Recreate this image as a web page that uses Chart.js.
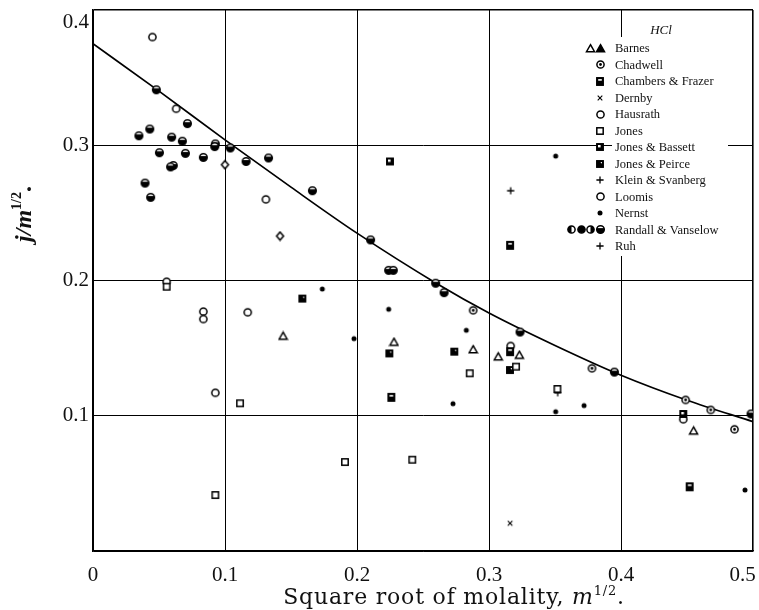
<!DOCTYPE html>
<html lang="en">
<head>
<meta charset="UTF-8">
<title>HCl - j/m^1/2 against square root of molality</title>
<script src="https://cdn.jsdelivr.net/npm/chart.js"></script>
<style>
  html, body { margin: 0; padding: 0; background: #fff; }
  canvas { display: block; }
</style>
</head>
<body>
<canvas id="chart" width="759" height="610"></canvas>
<script>
// points: [m^1/2, j/m^1/2]
const barnes = [[0.144, 0.159], [0.228, 0.1545], [0.288, 0.149], [0.307, 0.1437], [0.323, 0.1449], [0.455, 0.0889]];
const chadwell = [[0.288, 0.178], [0.378, 0.1351], [0.449, 0.1117], [0.468, 0.1043], [0.486, 0.090]];
const chambersFrazer = [[0.316, 0.226], [0.226, 0.1136], [0.316, 0.1474], [0.452, 0.0475]];
const dernby = [[0.316, 0.0205]];
const hausrath = [[0.045, 0.380], [0.063, 0.327], [0.131, 0.260]];
const diamonds = [[0.100, 0.2856], [0.1417, 0.2329]];
const jones = [[0.0558, 0.1954], [0.1114, 0.1092], [0.0927, 0.0414], [0.1909, 0.0658], [0.2419, 0.0675], [0.2854, 0.1314], [0.3205, 0.1363], [0.3518, 0.1198]];
const jonesBassett = [[0.225, 0.288], [0.4472, 0.1013]];
const jonesPeirce = [[0.1586, 0.1866], [0.2245, 0.1461], [0.2737, 0.1474], [0.3159, 0.1338]];
const kleinSvanberg = [[0.3164, 0.2664]];
const loomis = [[0.0558, 0.1991], [0.0836, 0.177], [0.0836, 0.1715], [0.1172, 0.1765], [0.0927, 0.117], [0.3164, 0.1516], [0.4472, 0.0974]];
const nernst = [[0.3505, 0.292], [0.1737, 0.1937], [0.224, 0.1787], [0.1977, 0.157], [0.2828, 0.1632], [0.2727, 0.1089], [0.3505, 0.103], [0.372, 0.1075], [0.4939, 0.0451]];
const randallVanselow = [[0.048, 0.341], [0.0715, 0.316], [0.0348, 0.307], [0.043, 0.312], [0.0596, 0.306], [0.0677, 0.303],
  [0.0927, 0.301], [0.0922, 0.299], [0.104, 0.298], [0.0503, 0.2945], [0.070, 0.294], [0.0836, 0.291], [0.116, 0.288],
  [0.133, 0.2906], [0.0608, 0.285], [0.0588, 0.284], [0.0394, 0.272], [0.0437, 0.2615], [0.1662, 0.2664], [0.2103, 0.230],
  [0.224, 0.2075], [0.2275, 0.2075], [0.2596, 0.198], [0.266, 0.191], [0.3235, 0.1619], [0.395, 0.1323], [0.4985, 0.1013]];
const ruh = [[0.352, 0.117]];

// the drawn curve, read at intervals
const curveX = [0, 0.05, 0.1, 0.15, 0.2, 0.26, 0.3, 0.35, 0.4, 0.45, 0.5];
const curveY = [0.375, 0.340, 0.304, 0.269, 0.235, 0.198, 0.176, 0.152, 0.130, 0.1115, 0.0956];

const xTicks = [0, 0.1, 0.2, 0.3, 0.4, 0.5];
const yTicks = [0.1, 0.2, 0.3, 0.4];
const legendTitle = 'HCl';

// little symbol canvases used as point styles
function sym(w, h, draw) {
  const c = document.createElement('canvas');
  c.width = w; c.height = h;
  const g = c.getContext('2d');
  g.strokeStyle = '#000'; g.fillStyle = '#000'; g.lineWidth = 1.5;
  draw(g, w / 2, h / 2);
  return c;
}
function ring(g, x, y, r) { g.beginPath(); g.arc(x, y, r, 0, Math.PI * 2); }
function half(g, x, y, r, rx, ry, rw, rh) {
  ring(g, x, y, r); g.fillStyle = '#fff'; g.fill();
  g.save(); g.clip(); g.fillStyle = '#000'; g.fillRect(rx, ry, rw, rh); g.restore();
  ring(g, x, y, r); g.stroke();
}

const S = {
  triOpen: sym(11, 11, (g, x, y) => { g.beginPath(); g.moveTo(x, y - 3.8); g.lineTo(x + 4, y + 3.2); g.lineTo(x - 4, y + 3.2); g.closePath(); g.fillStyle = '#fff'; g.fill(); g.stroke(); }),
  triFull: sym(11, 11, (g, x, y) => { g.beginPath(); g.moveTo(x, y - 3.8); g.lineTo(x + 4, y + 3.2); g.lineTo(x - 4, y + 3.2); g.closePath(); g.fill(); g.stroke(); }),
  circle: sym(11, 11, (g, x, y) => { ring(g, x, y, 3.6); g.fillStyle = '#fff'; g.fill(); g.stroke(); }),
  dotCircle: sym(11, 11, (g, x, y) => { ring(g, x, y, 3.6); g.fillStyle = '#fff'; g.fill(); g.stroke(); ring(g, x, y, 1.4); g.fillStyle = '#000'; g.fill(); }),
  nernst: sym(8, 8, (g, x, y) => { ring(g, x, y, 2.5); g.fill(); }),
  square: sym(10, 10, (g, x, y) => { g.fillStyle = '#fff'; g.fillRect(x - 3.2, y - 3.2, 6.4, 6.4); g.strokeRect(x - 3.2, y - 3.2, 6.4, 6.4); }),
  chambers: sym(10, 11, (g, x, y) => { g.fillRect(x - 3.2, y - 3.7, 6.4, 7.4); g.fillStyle = '#fff'; g.fillRect(x - 1.8, y - 2.4, 3.6, 1.6); g.strokeRect(x - 3.2, y - 3.7, 6.4, 7.4); }),
  bassett: sym(10, 10, (g, x, y) => { g.fillRect(x - 3.2, y - 3.2, 6.4, 6.4); g.fillStyle = '#fff'; g.fillRect(x - 2, y - 2, 2.6, 2.4); g.strokeRect(x - 3.2, y - 3.2, 6.4, 6.4); }),
  peirce: sym(10, 10, (g, x, y) => { g.fillRect(x - 3.2, y - 3.2, 6.4, 6.4); g.fillStyle = '#fff'; g.beginPath(); g.moveTo(x + 0.3, y - 2); g.lineTo(x + 2, y - 2); g.lineTo(x + 2, y - 0.3); g.closePath(); g.fill(); g.strokeRect(x - 3.2, y - 3.2, 6.4, 6.4); }),
  plus: sym(10, 10, (g, x, y) => { g.lineWidth = 1.3; g.beginPath(); g.moveTo(x - 3.6, y); g.lineTo(x + 3.6, y); g.moveTo(x, y - 3.6); g.lineTo(x, y + 3.6); g.stroke(); }),
  cross: sym(8, 8, (g, x, y) => { g.lineWidth = 1.1; g.beginPath(); g.moveTo(x - 2.3, y - 2.3); g.lineTo(x + 2.3, y + 2.3); g.moveTo(x + 2.3, y - 2.3); g.lineTo(x - 2.3, y + 2.3); g.stroke(); }),
  diamond: sym(11, 11, (g, x, y) => { g.beginPath(); g.moveTo(x, y - 4); g.lineTo(x + 3.5, y); g.lineTo(x, y + 4); g.lineTo(x - 3.5, y); g.closePath(); g.fillStyle = '#fff'; g.fill(); g.stroke(); }),
  rvBottom: sym(11, 11, (g, x, y) => half(g, x, y, 3.8, x - 5, y - 1.4, 10, 6)),
  rvLeft: sym(11, 11, (g, x, y) => half(g, x, y, 3.6, x - 5, y - 5, 5, 10)),
  rvFull: sym(11, 11, (g, x, y) => { ring(g, x, y, 3.6); g.fill(); g.stroke(); }),
  rvRight: sym(11, 11, (g, x, y) => half(g, x, y, 3.6, x, y - 5, 5, 10))
};

const legendRows = [
  { name: 'Barnes', syms: [S.triOpen, S.triFull] },
  { name: 'Chadwell', syms: [S.dotCircle] },
  { name: 'Chambers & Frazer', syms: [S.chambers] },
  { name: 'Dernby', syms: [S.cross] },
  { name: 'Hausrath', syms: [S.circle] },
  { name: 'Jones', syms: [S.square] },
  { name: 'Jones & Bassett', syms: [S.bassett] },
  { name: 'Jones & Peirce', syms: [S.peirce] },
  { name: 'Klein & Svanberg', syms: [S.plus] },
  { name: 'Loomis', syms: [S.circle] },
  { name: 'Nernst', syms: [S.nernst] },
  { name: 'Randall & Vanselow', syms: [S.rvLeft, S.rvFull, S.rvRight, S.rvBottom] },
  { name: 'Ruh', syms: [S.plus] }
];

function pts(arr) { return arr.map(p => ({ x: p[0], y: p[1] })); }
function scatterSet(label, arr, style) {
  return { label: label, data: pts(arr), pointStyle: style, pointRadius: 4, borderWidth: 0, order: 0 };
}

const curve = curveX.map((x, i) => ({ x: x, y: curveY[i] }));

// white patch of the pasted key, it hides the grid behind it
const paper = {
  id: 'paper',
  beforeDatasetsDraw(chart) {
    const ctx = chart.ctx;
    ctx.save();
    ctx.fillStyle = '#fff';
    ctx.fillRect(612, 37, 116, 219);
    ctx.restore();
  },
  afterDraw(chart) {
    const ctx = chart.ctx;
    ctx.save();
    // key
    ctx.fillStyle = '#111';
    ctx.textBaseline = 'middle';
    ctx.font = 'italic 13px "Liberation Serif"';
    ctx.textAlign = 'center';
    ctx.fillText(legendTitle, 661, 31);
    ctx.textAlign = 'left';
    ctx.font = '12.5px "Liberation Serif"';
    legendRows.forEach((row, i) => {
      const y = 48 + i * 16.5;
      const n = row.syms.length;
      row.syms.forEach((s, k) => {
        const cx = 600 - (n - 1 - k) * 9.5;
        ctx.drawImage(s, Math.round(cx - s.width / 2), Math.round(y - s.height / 2));
      });
      ctx.fillText(row.name, 615, y + 1);
    });

    // axis titles with superscripts
    drawRuns(ctx, [
      { t: 'Square root of molality, ', f: '22px "DejaVu Serif"', dy: 0 },
      { t: 'm', f: 'italic 22px "DejaVu Serif"', dy: 0 },
      { t: '1/2', f: '13px "DejaVu Serif"', dy: -9 },
      { t: '.', f: '22px "DejaVu Serif"', dy: 0 }
    ], 454, 604, 0, '0.8px');
    drawRuns(ctx, [
      { t: 'j/m', f: 'bold italic 24px "Liberation Serif"', dy: 0 },
      { t: '1/2', f: 'bold 14px "Liberation Serif"', dy: -10 },
      { t: '.', f: 'bold 24px "Liberation Serif"', dy: 0 }
    ], 31, 214, -Math.PI / 2, '0px');
    ctx.restore();
  }
};

function drawRuns(ctx, runs, x, y, angle, spacing) {
  ctx.save();
  ctx.translate(x, y);
  ctx.rotate(angle);
  ctx.textBaseline = 'alphabetic';
  ctx.textAlign = 'left';
  ctx.fillStyle = '#111';
  if ('letterSpacing' in ctx) ctx.letterSpacing = spacing;
  let total = 0;
  runs.forEach(r => { ctx.font = r.f; r.w = ctx.measureText(r.t).width; total += r.w; });
  let cx = -total / 2;
  runs.forEach(r => { ctx.font = r.f; ctx.fillText(r.t, cx, r.dy); cx += r.w; });
  ctx.restore();
}

const tickFont = { family: '"Liberation Serif"', size: 21 };

new Chart(document.getElementById('chart'), {
  type: 'scatter',
  data: {
    datasets: [
      { label: 'curve', data: curve, showLine: true, borderColor: '#000', borderWidth: 1.7, pointRadius: 0,
        cubicInterpolationMode: 'monotone', fill: false, order: 10 },
      scatterSet('Barnes', barnes, S.triOpen),
      scatterSet('Chadwell', chadwell, S.dotCircle),
      scatterSet('Chambers & Frazer', chambersFrazer, S.chambers),
      scatterSet('Dernby', dernby, S.cross),
      scatterSet('Hausrath', hausrath, S.circle),
      scatterSet('Hausrath diamonds', diamonds, S.diamond),
      scatterSet('Jones', jones, S.square),
      scatterSet('Jones & Bassett', jonesBassett, S.bassett),
      scatterSet('Jones & Peirce', jonesPeirce, S.peirce),
      scatterSet('Klein & Svanberg', kleinSvanberg, S.plus),
      scatterSet('Loomis', loomis, S.circle),
      scatterSet('Nernst', nernst, S.nernst),
      scatterSet('Randall & Vanselow', randallVanselow, S.rvBottom),
      scatterSet('Ruh', ruh, S.plus)
    ]
  },
  options: {
    responsive: false,
    animation: false,
    devicePixelRatio: 1,
    layout: { padding: { top: 10, right: 6, left: 0, bottom: 0 } },
    plugins: { legend: { display: false }, tooltip: { enabled: false } },
    scales: {
      x: {
        type: 'linear', min: 0, max: 0.5,
        afterBuildTicks: s => { s.ticks = xTicks.map(v => ({ value: v })); },
        afterFit: s => { s.height = 59; s.paddingLeft = 0; s.paddingRight = 0; },
        ticks: { font: tickFont, color: '#111', padding: 12, maxRotation: 0, autoSkip: false,
          // last label sits a little inside the frame, as printed
          callback: v => (v === 0 ? '0' : (v === 0.5 ? '0.5\u2003' : v.toFixed(1))) },
        grid: { color: '#000', lineWidth: c => (c.tick && (c.tick.value === 0.5) ? 1.6 : 1), drawTicks: false },
        border: { display: true, color: '#000', width: 1.6 }
      },
      y: {
        type: 'linear', min: 0, max: 0.4,
        afterBuildTicks: s => { s.ticks = [0].concat(yTicks).map(v => ({ value: v })); },
        afterFit: s => { s.width = 93; s.paddingTop = 0; s.paddingBottom = 0; },
        ticks: { font: tickFont, color: '#111', padding: 4, autoSkip: false,
          // top label printed just below the frame
          callback: v => (v === 0 ? '' : (v === 0.4 ? ['', '0.4'] : v.toFixed(1))) },
        grid: { color: '#000', lineWidth: c => (c.tick && (c.tick.value === 0.4) ? 1.6 : 1), drawTicks: false },
        border: { display: true, color: '#000', width: 1.6 }
      }
    }
  },
  plugins: [paper]
});
</script>
</body>
</html>
